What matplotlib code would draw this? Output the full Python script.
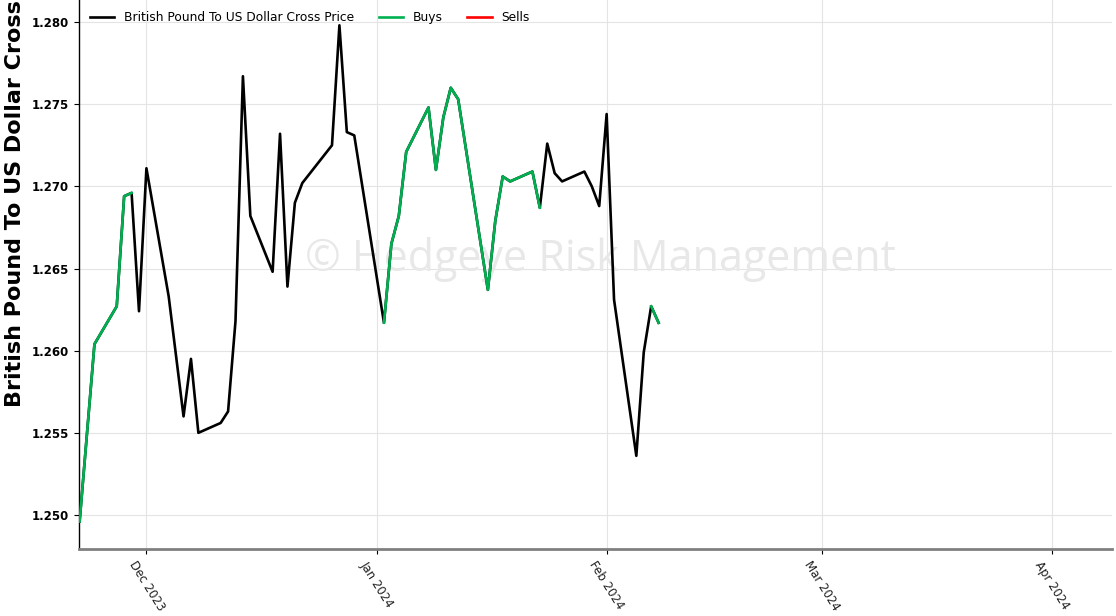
import matplotlib
matplotlib.use("Agg")
import matplotlib.pyplot as plt
import matplotlib.dates as mdates
from matplotlib.ticker import FormatStrFormatter
import numpy as np
import pandas as pd

# Daily GBP/USD closes
dates = [
    "2023-11-22", "2023-11-24", "2023-11-27", "2023-11-28", "2023-11-29",
    "2023-11-30", "2023-12-01", "2023-12-04", "2023-12-06", "2023-12-07",
    "2023-12-08", "2023-12-11", "2023-12-12", "2023-12-13", "2023-12-14",
    "2023-12-15", "2023-12-18", "2023-12-19", "2023-12-20", "2023-12-21",
    "2023-12-22", "2023-12-26", "2023-12-27", "2023-12-28", "2023-12-29",
    "2024-01-02", "2024-01-03", "2024-01-04", "2024-01-05", "2024-01-08",
    "2024-01-09", "2024-01-10", "2024-01-11", "2024-01-12", "2024-01-16",
    "2024-01-17", "2024-01-18", "2024-01-19", "2024-01-22", "2024-01-23",
    "2024-01-24", "2024-01-25", "2024-01-26", "2024-01-29", "2024-01-30",
    "2024-01-31", "2024-02-01", "2024-02-02", "2024-02-05", "2024-02-06",
    "2024-02-07", "2024-02-08",
]
price = [
    1.2496, 1.2604, 1.2627, 1.2694, 1.2696,
    1.2624, 1.2711, 1.2633, 1.2560, 1.2595,
    1.2550, 1.2556, 1.2563, 1.2618, 1.2767,
    1.2682, 1.2648, 1.2732, 1.2639, 1.2690,
    1.2702, 1.2725, 1.2798, 1.2733, 1.2731,
    1.2617, 1.2665, 1.2682, 1.2721, 1.2748,
    1.2710, 1.2742, 1.2760, 1.2753, 1.2637,
    1.2679, 1.2706, 1.2703, 1.2709, 1.2687,
    1.2726, 1.2708, 1.2703, 1.2709, 1.2700,
    1.2688, 1.2744, 1.2631, 1.2536, 1.2599,
    1.2627, 1.2617,
]

# Signal periods (inclusive)
buy_periods = [("2023-11-22", "2023-11-29"),
               ("2024-01-02", "2024-01-23"),
               ("2024-02-07", "2024-02-08")]
sell_periods = []

y_ticks = [1.250, 1.255, 1.260, 1.265, 1.270, 1.275, 1.280]
series_label = "British Pound To US Dollar Cross Price"
axis_label = "British Pound To US Dollar Cross"

d = pd.to_datetime(dates)
p = np.array(price, dtype=float)


def signal_series(periods):
    out = np.full_like(p, np.nan)
    for start, end in periods:
        m = (d >= pd.Timestamp(start)) & (d <= pd.Timestamp(end))
        out[m] = p[m]
    return out


buys = signal_series(buy_periods)
sells = signal_series(sell_periods)

W, H = 1116, 616
fig = plt.figure(figsize=(W / 100, H / 100), dpi=100)
ax = fig.add_axes([79 / W, 67 / H, 1033 / W, 549 / H])

ax.plot(d, p, color="black", lw=1.9, label=series_label, zorder=3)
ax.plot(d, buys, color="#00b050", lw=1.9, label="Buys", zorder=4)
ax.plot(d, sells, color="#ff0000", lw=1.9, label="Sells", zorder=4)

ax.set_xlim(mdates.date2num(pd.Timestamp("2023-11-21 22:00")),
            mdates.date2num(pd.Timestamp("2024-04-09 02:00")))
ax.set_ylim(1.24793, 1.28134)

ax.xaxis.set_major_locator(mdates.MonthLocator())
ax.xaxis.set_major_formatter(mdates.DateFormatter("%b %Y"))
ax.set_yticks(y_ticks)
ax.yaxis.set_major_formatter(FormatStrFormatter("%.3f"))

for lab in ax.get_xticklabels():
    lab.set_rotation(-58)
    lab.set_ha("center")
    lab.set_fontsize(8.5)
    lab.set_color("#222222")
for lab in ax.get_yticklabels():
    lab.set_fontweight("bold")
    lab.set_fontsize(8.5)

ax.grid(True, color="#e4e4e4", lw=0.8)
ax.set_axisbelow(True)

for side in ("top", "right"):
    ax.spines[side].set_visible(False)
ax.spines["bottom"].set_color("#808080")
ax.spines["bottom"].set_linewidth(2)
ax.spines["left"].set_color("black")
ax.spines["left"].set_linewidth(1)

ax.set_ylabel(axis_label, fontsize=16, fontweight="bold", loc="bottom")
ax.yaxis.set_label_coords(-0.052, (549 - 407) / 549)

ax.text(0.5044, 0.506, "\u00a9 Hedgeye Risk Management", transform=ax.transAxes,
        ha="center", va="baseline", fontsize=31, color="#e8e8e8",
        family="Open Sans", zorder=1)

ax.legend(loc="upper left", ncol=3, frameon=False, fontsize=8.8)

fig.savefig("out.png", dpi=100)
